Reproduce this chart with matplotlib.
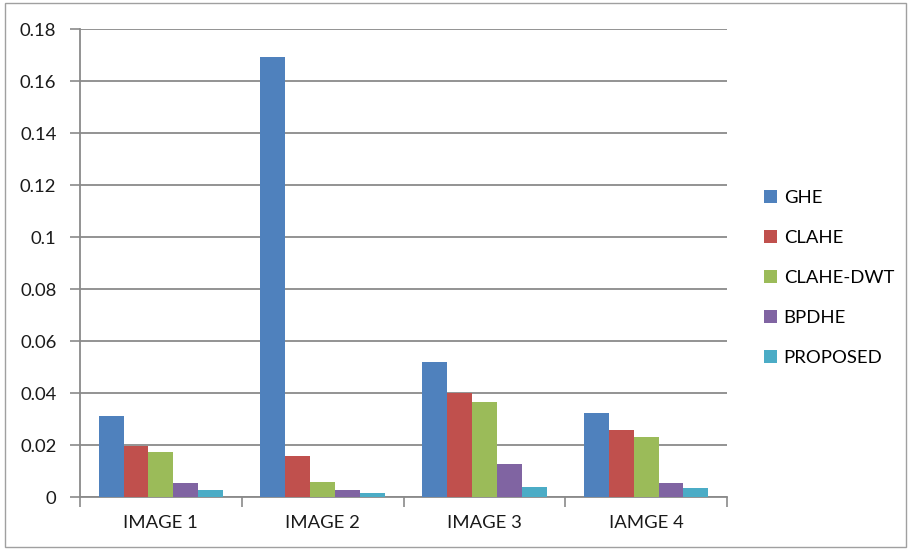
import matplotlib
matplotlib.use("Agg")
import matplotlib.pyplot as plt
import numpy as np
from matplotlib.patches import Rectangle

plt.rcParams['font.family'] = ['Lato', 'DejaVu Sans']

categories = ["IMAGE 1", "IMAGE 2", "IMAGE 3", "IAMGE 4"]
methods = ["GHE", "CLAHE", "CLAHE-DWT", "BPDHE", "PROPOSED"]
ghe = [0.0313, 0.1692, 0.0521, 0.0323]
clahe = [0.0196, 0.0156, 0.0401, 0.0257]
clahe_dwt = [0.0174, 0.0058, 0.0366, 0.0229]
bpdhe = [0.0055, 0.0026, 0.0126, 0.0053]
proposed = [0.0027, 0.0017, 0.0040, 0.0036]
y_ticks = [0, 0.02, 0.04, 0.06, 0.08, 0.1, 0.12, 0.14, 0.16, 0.18]
y_tick_labels = ["0", "0.02", "0.04", "0.06", "0.08", "0.1", "0.12", "0.14", "0.16", "0.18"]

series = [ghe, clahe, clahe_dwt, bpdhe, proposed]
colors = ["#4F81BD", "#C0504D", "#9BBB59", "#8064A2", "#4BACC6"]
fs = 13.3

fig = plt.figure(figsize=(9.1, 5.5), dpi=100)
ax = fig.add_axes([80 / 910, 1 - 497 / 550, (727 - 80) / 910, (497 - 29) / 550])

# outer chart border
fig.patches.append(Rectangle((5 / 910, 3 / 550), 901 / 910, 544 / 550,
                             transform=fig.transFigure, fill=False,
                             edgecolor="#a0a0a0", linewidth=1.0))

x = np.arange(len(categories))
w = 1 / (len(methods) + 1.5)
for i, (vals, c, name) in enumerate(zip(series, colors, methods)):
    ax.bar(x + (i - 2) * w, vals, width=w, color=c, label=name,
           edgecolor="none", zorder=3)

ax.set_xlim(-0.5, len(categories) - 0.5)
ax.set_ylim(0, 0.18)
ax.set_yticks(y_ticks)
ax.set_yticklabels(y_tick_labels)
ax.set_xticks(x)
ax.set_xticklabels(categories)
ax.set_xticks(np.arange(len(categories) + 1) - 0.5, minor=True)

ax.tick_params(axis='x', which='major', length=0, pad=13, labelsize=fs, colors="#1a1a1a")
ax.tick_params(axis='x', which='minor', length=7, width=1.2, color="#8a8a8a")
ax.tick_params(axis='y', length=7, width=1.2, color="#8a8a8a", pad=10,
               labelsize=fs, labelcolor="#1a1a1a")

ax.grid(axis='y', color="#8a8a8a", linewidth=1.3, zorder=0)
for side in ("top", "right"):
    ax.spines[side].set_visible(False)
for side in ("left", "bottom"):
    ax.spines[side].set_color("#8a8a8a")
    ax.spines[side].set_linewidth(1.3)

fig.legend(loc="center left", bbox_to_anchor=(755 / 910, 1 - 278 / 550),
           frameon=False, fontsize=fs, handlelength=0.7, handleheight=0.7,
           handletextpad=0.35, labelspacing=1.29, borderpad=0)

fig.savefig("out.png", dpi=100)
